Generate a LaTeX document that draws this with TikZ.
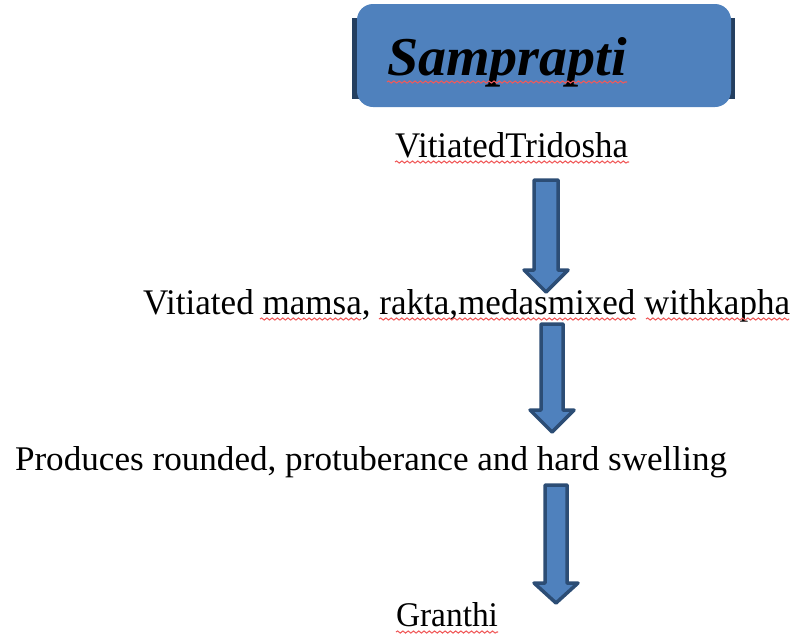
\documentclass[tikz,border=0pt]{standalone}
\usepackage{fontspec}
\setmainfont{Liberation Serif}
\usepackage{graphicx}
\usetikzlibrary{decorations.pathmorphing}

\definecolor{boxblue}{HTML}{4F81BD}
\definecolor{edgeblue}{HTML}{2C4D75}
\definecolor{barblue}{HTML}{243F60}
\definecolor{spellred}{HTML}{F05A5A}

\newlength\pxu
\setlength\pxu{0.02cm}
\newcommand\fitbox[3]{\resizebox{#1\pxu}{#2\pxu}{#3}}

\tikzset{
  txt/.style={inner sep=0pt, outer sep=0pt, anchor=base west},
  blockarrow/.style={fill=boxblue, draw=edgeblue, line width=2pt, line join=round},
  squiggle/.style={draw=spellred, line width=0.6pt,
    decorate, decoration={snake, amplitude=0.6pt, segment length=3pt}}
}

\begin{document}
\begin{tikzpicture}[x=0.02cm, y=-0.02cm]
    \useasboundingbox (0,0) rectangle (793,637);
    % title box
    \fill[barblue] (352,18) rectangle (735,99);
    \fill[boxblue, rounded corners=16\pxu] (357,4) rectangle (731,107);
    \node[txt] (title) at (387,75) {\fitbox{240}{38}{\bfseries\itshape Samprapti}};
    % steps
    \node[txt] (tri) at (395,157) {\fitbox{233}{25}{VitiatedTridosha}};
    \node[txt] (mix) at (143,314) {\fitbox{647}{25}{Vitiated mamsa, rakta,medasmixed withkapha}};
    \node[txt] (prod) at (15,470) {\fitbox{712}{24}{Produces rounded, protuberance and hard swelling}};
    \node[txt] (gr) at (396,626) {\fitbox{102}{24}{Granthi}};
    % block arrows: centre/shaft half width/top/head top/head half width/tip
    \foreach \cx/\sw/\yt/\yh/\hw/\yp in {546/12/180/270/22/292, 552/11/324/410/22/432, 556/11/485/583/22/603} {
      \draw[blockarrow] (\cx-\sw,\yt) -- (\cx+\sw,\yt) -- (\cx+\sw,\yh) -- (\cx+\hw,\yh)
        -- (\cx,\yp) -- (\cx-\hw,\yh) -- (\cx-\sw,\yh) -- cycle;
    }
    % spelling marks
    \foreach \xa/\xb/\y in {387/627/82, 395/629/162, 260/361/319, 379/636/319, 646/789/319, 396/498/632} {
      \draw[squiggle] (\xa,\y) -- (\xb,\y);
    }
\end{tikzpicture}
\end{document}
